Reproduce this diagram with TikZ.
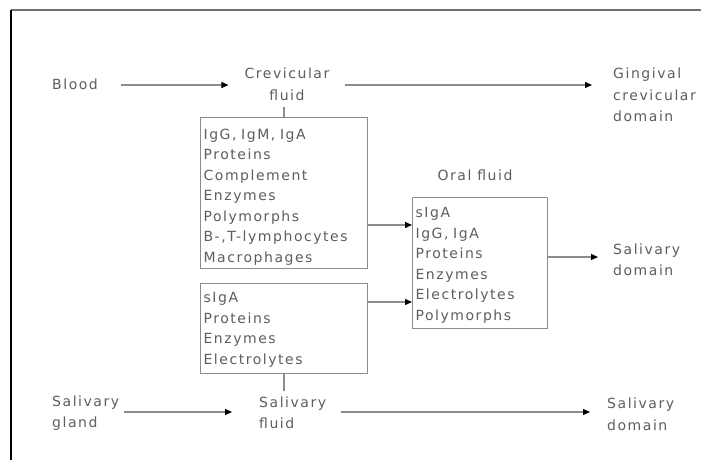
\documentclass[tikz,border=0pt]{standalone}
\usepackage{fontspec}
\setmainfont{DejaVu Sans}[LetterSpace=11]
\usetikzlibrary{arrows.meta}
\definecolor{txt}{HTML}{5E5E5E}
\definecolor{ln}{HTML}{8C8C8C}
\definecolor{frm}{HTML}{707070}
\begin{document}
\begin{tikzpicture}[x=1pt,y=-1pt,
  every node/.style={font=\fontsize{14}{20.5}\selectfont, text=txt, inner sep=0pt},
  lbl/.style={align=left, anchor=west},
  box/.style={draw=ln, line width=1.2pt, anchor=north west, align=left, inner xsep=3pt, inner ysep=0pt},
  arr/.style={draw=ln, line width=1.3pt, -{Triangle[length=7pt,width=6pt,fill=black,color=black]}},
  link/.style={draw=ln, line width=1.3pt}]
\useasboundingbox (0,0) rectangle (701,460);
\fill[white] (0,0) rectangle (701,460);
\draw[frm, line width=1.5pt] (11,10) -- (701,10);
\draw[black, line width=1.8pt] (11,10) -- (11,460);

\node[lbl] (blood) at (52,84) {Blood};
\node[align=center, font=\fontsize{14}{22}\selectfont] (cf) at (287,84) {Crevicular\\fluid};
\node[lbl, font=\fontsize{14}{21.5}\selectfont] (gcd) at (613,95) {Gingival\\crevicular\\domain};

\node[box, minimum width=167pt, text width=161pt, minimum height=151pt] (b1) at (200,117)
  {\rule{0pt}{18pt}IgG, IgM, IgA\\Proteins\\Complement\\Enzymes\\Polymorphs\\B-,T-lymphocytes\\Macrophages};
\node[box, minimum width=167pt, text width=161pt, minimum height=90pt] (b2) at (200,283)
  {\rule{0pt}{12.5pt}sIgA\\Proteins\\Enzymes\\Electrolytes};

\node (of) at (475,175) {Oral fluid};
\node[box, minimum width=135pt, text width=129pt, minimum height=131pt] (b3) at (412,197)
  {\rule{0pt}{14.5pt}sIgA\\IgG, IgA\\Proteins\\Enzymes\\Electrolytes\\Polymorphs};

\node[lbl, font=\fontsize{14}{20.5}\selectfont] (sd1) at (613,260) {Salivary\\domain};
\node[lbl] (sg) at (52,413) {Salivary\\gland};
\node[lbl] (sf) at (259,413) {Salivary\\fluid};
\node[lbl, font=\fontsize{14}{22}\selectfont] (sd2) at (607,414) {Salivary\\domain};

\coordinate (j1) at (412,225);
\coordinate (j2) at (412,302);
\coordinate (j3) at (547,257);

\draw[arr, shorten <=23pt, shorten >=16pt] (blood.east |- 0,85) -- (cf.west |- 0,85);
\draw[arr, shorten <=15pt, shorten >=21pt] (cf.east |- 0,85) -- (gcd.west |- 0,85);
\draw[link, shorten >=6pt] (b1.north) -- (b1.north |- cf.south);
\draw[arr] (b1.east |- j1) -- (j1);
\draw[arr] (b2.east |- j2) -- (j2);
\draw[arr, shorten >=15pt] (j3) -- (sd1.west |- j3);
\draw[link, shorten >=6pt] (b2.south) -- (b2.south |- sf.north);
\draw[arr, shorten <=5pt, shorten >=27pt] (sg.east |- 0,412) -- (sf.west |- 0,412);
\draw[arr, shorten <=15pt, shorten >=17pt] (sf.east |- 0,412) -- (sd2.west |- 0,412);
\end{tikzpicture}
\end{document}
